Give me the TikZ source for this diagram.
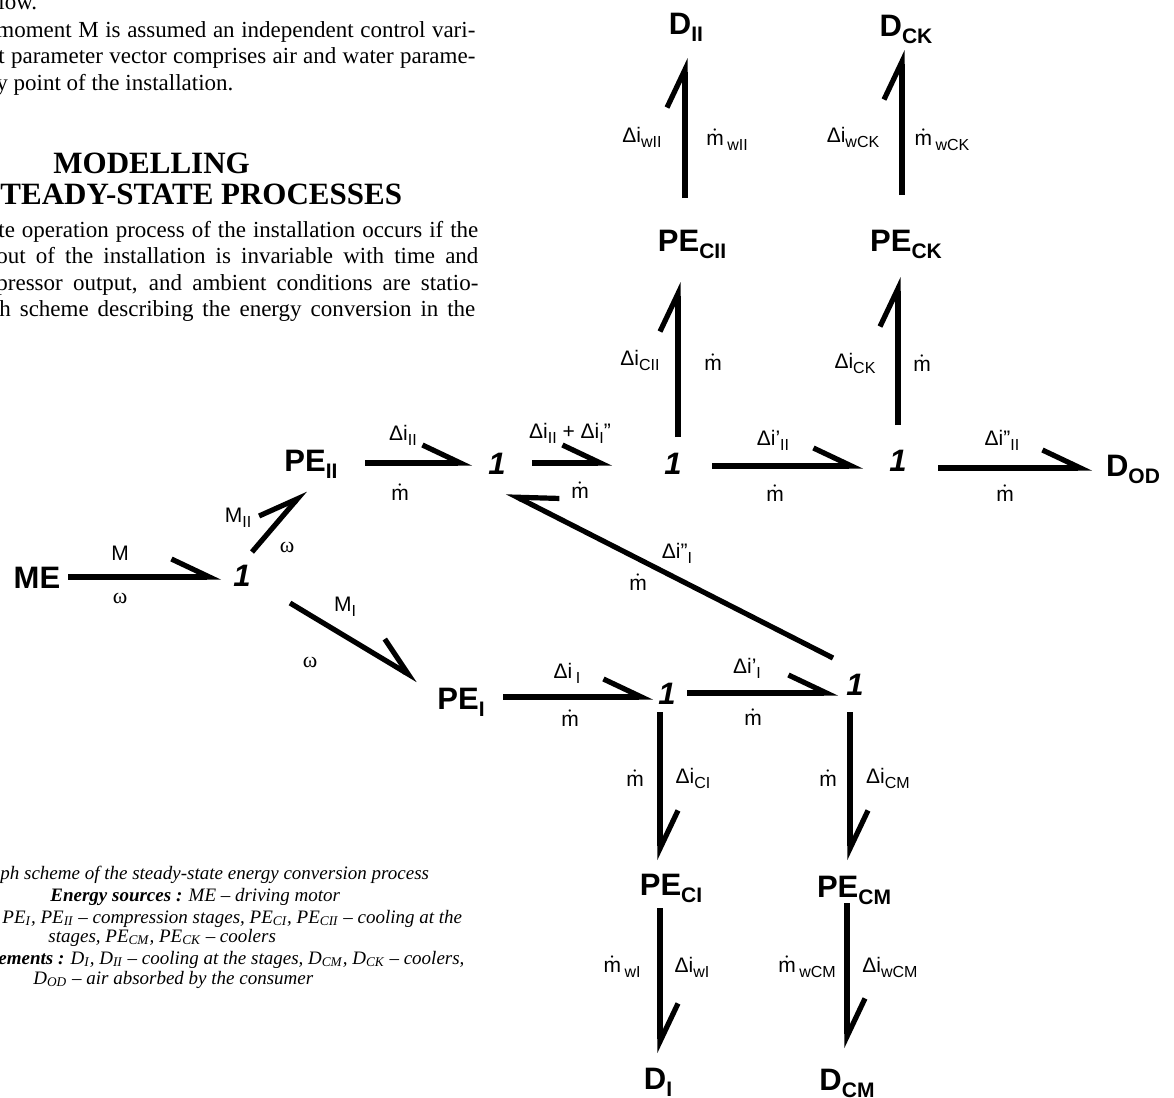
\documentclass[tikz,border=0pt]{standalone}
\usepackage{amsmath}
\usepackage{fontspec}
\setmainfont{Liberation Serif}
\setsansfont{Liberation Sans}
\usepackage{tikz}
\usetikzlibrary{arrows.meta,calc}
\newcommand{\mflow}{$\dot{\text{m}}$}
\newcommand{\esub}[1]{\raisebox{-3.5pt}{\fontsize{10.5}{11}\selectfont #1}}
\newcommand{\vsub}[1]{\raisebox{-2.5pt}{\fontsize{8}{9}\selectfont #1}}
\tikzset{
  elem/.style={font=\sffamily\bfseries\fontsize{15.5}{16}\selectfont, inner sep=0pt,
    text height=11pt, text depth=0pt},
  junc/.style={font=\sffamily\bfseries\itshape\fontsize{15.5}{16}\selectfont, inner sep=0pt,
    text height=11pt, text depth=0pt},
  var/.style={font=\sffamily\fontsize{10.5}{12}\selectfont, inner sep=1pt},
  omega/.style={font=\rmfamily\fontsize{11}{12}\selectfont, inner sep=1pt},
  bond/.style={line width=2.6pt, -{Straight Barb[harpoon, length=19pt, width=18pt]}},
  bond-swap/.style={line width=2.6pt, -{Straight Barb[harpoon, swap, length=19pt, width=18pt]}},
  page-text/.style={font=\rmfamily\fontsize{11.5}{13}\selectfont, inner sep=0pt, anchor=base west},
  page-head/.style={font=\rmfamily\bfseries\fontsize{15.5}{17}\selectfont, inner sep=0pt, anchor=base west},
  caption-line/.style={font=\rmfamily\itshape\fontsize{9.5}{10}\selectfont, inner sep=0pt, anchor=base west}
}

\begin{document}
\begin{tikzpicture}[x=0.5pt, y=-0.5pt]
\useasboundingbox (0,0) rectangle (1174,1098);
\clip (0,0) rectangle (1174,1098);

% Page text round the figure
\node[page-text] (txt1) at (-2,9) {low.};
\node[page-text] (txt2) at (-4,37) {\makebox[239.5pt][s]{moment M is assumed an independent control vari-}};
\node[page-text] (txt3) at (-2,63) {\makebox[238.5pt][s]{t parameter vector comprises air and water parame-}};
\node[page-text] (txt4) at (-4,90) {y point of the installation.};
\node[page-head] (head1) at (53,173) {MODELLING};
\node[page-head] (head2) at (0,204) {TEADY-STATE PROCESSES};
\node[page-text] (txt5) at (-2,237) {\makebox[240pt][s]{te operation process of the installation occurs if the}};
\node[page-text] (txt6) at (-4,263) {\makebox[241pt][s]{out of the installation is invariable with time and}};
\node[page-text] (txt7) at (-4,290) {\makebox[241pt][s]{pressor output, and ambient conditions are statio-}};
\node[page-text] (txt8) at (-1,316) {\makebox[238pt][s]{h scheme describing the energy conversion in the}};

% Caption
\node[caption-line] (cap1) at (0,879) {ph scheme of the steady-state energy conversion process};
\node[caption-line] (cap2) at (50,901) {\textbf{Energy sources :} ME -- driving motor};
\node[caption-line] (cap3) at (2,923) {PE\textsubscript{I}, PE\textsubscript{II} -- compression stages, PE\textsubscript{CI}, PE\textsubscript{CII} -- cooling at the};
\node[caption-line] (cap4) at (48,942) {stages, PE\textsubscript{CM}, PE\textsubscript{CK} -- coolers};
\node[caption-line] (cap5) at (-2,964) {\textbf{ements :} D\textsubscript{I}, D\textsubscript{II} -- cooling at the stages, D\textsubscript{CM}, D\textsubscript{CK} -- coolers,};
\node[caption-line] (cap6) at (33,984) {D\textsubscript{OD} -- air absorbed by the consumer};

% Elements
\node[elem] (ME) at (37,577) {ME};
\node[elem] (PEII) at (311,460) {PE\esub{II}};
\node[elem] (PEI) at (461,698) {PE\esub{I}};
\node[elem] (DOD) at (1133,465) {D\esub{OD}};
\node[elem] (PECII) at (692,240) {PE\esub{CII}};
\node[elem] (DII) at (686,23) {D\esub{II}};
\node[elem] (PECK) at (906,240) {PE\esub{CK}};
\node[elem] (DCK) at (906,25) {D\esub{CK}};
\node[elem] (PECI) at (671,884) {PE\esub{CI}};
\node[elem] (PECM) at (854,886) {PE\esub{CM}};
\node[elem] (DI) at (658,1078) {D\esub{I}};
\node[elem] (DCM) at (847,1079) {D\esub{CM}};

% Junctions
\node[junc] (j0) at (242,575) {1};
\node[junc] (jA) at (497,463) {1};
\node[junc] (jB) at (673,463) {1};
\node[junc] (jE) at (898,460) {1};
\node[junc] (jC) at (667,693) {1};
\node[junc] (jD) at (855,684) {1};

% Bonds
\draw[bond] ($(ME)+(31,0)$) -- ($(j0)+(-21,2)$);
\draw[bond] ($(j0)+(10,-23)$) -- ($(PEII)+(-6,30)$);
\draw[bond] ($(j0)+(48,28)$) -- ($(PEI)+(-43,-18)$);
\draw[bond] ($(PEII)+(54,3)$) -- ($(jA)+(-25,0)$);
\draw[bond] ($(jA)+(35,0)$) -- ($(jB)+(-61,0)$);
\draw[bond] ($(jB)+(39,3)$) -- ($(jE)+(-35,6)$);
\draw[bond] ($(jE)+(40,8)$) -- ($(DOD)+(-41,3)$);
\draw[bond] ($(jB)+(5,-26)$) -- ($(PECII)+(-14,42)$);
\draw[bond] ($(PECII)+(-7,-42)$) -- ($(DII)+(-1,35)$);
\draw[bond] ($(jE)+(0,-35)$) -- ($(PECK)+(-8,37)$);
\draw[bond] ($(PECK)+(-4,-45)$) -- ($(DCK)+(-4,25)$);
\draw[bond] ($(PEI)+(42,-1)$) -- ($(jC)+(-14,4)$);
\draw[bond] ($(jC)+(20,0)$) -- ($(jD)+(-17,9)$);
\draw[bond-swap] ($(jD)+(-22,-26)$) -- ($(jA)+(10,29)$);
\draw[bond] ($(jC)+(-7,19)$) -- ($(PECI)+(-11,-24)$);
\draw[bond] ($(jD)+(-5,28)$) -- ($(PECM)+(-4,-26)$);
\draw[bond] ($(PECI)+(-11,24)$) -- ($(DI)+(2,-25)$);
\draw[bond] ($(PECM)+(-7,17)$) -- ($(DCM)+(0,-31)$);

% Bond labels
\node[var] (lM) at (120,553) {M};
\node[omega] (lw0) at (120,598) {ω};
\node[var] (lMII) at (238,518) {M\vsub{II}};
\node[omega] (lwII) at (287,547) {ω};
\node[var] (lMI) at (345,607) {M\vsub{I}};
\node[omega] (lwI) at (310,662) {ω};
\node[var] (lA1) at (403,435) {Δi\vsub{II}};
\node[var] (lA2) at (400,492) {\mflow};
\node[var] (lB1) at (570,433) {Δi\vsub{II} + Δi\vsub{I}"};
\node[var] (lB2) at (580,490) {\mflow};
\node[var] (lE1) at (773,440) {Δi'\vsub{II}};
\node[var] (lE2) at (775,493) {\mflow};
\node[var] (lO1) at (1002,440) {Δi"\vsub{II}};
\node[var] (lO2) at (1005,493) {\mflow};
\node[var] (lD1) at (677,553) {Δi"\vsub{I}};
\node[var] (lD2) at (638,582) {\mflow};
\node[var] (lC1) at (567,673) {Δi\,\vsub{I}};
\node[var] (lC2) at (570,718) {\mflow};
\node[var] (lCD1) at (747,668) {Δi'\vsub{I}};
\node[var] (lCD2) at (753,717) {\mflow};
\node[var] (lCI1) at (635,778) {\mflow};
\node[var] (lCI2) at (693,778) {Δi\vsub{CI}};
\node[var] (lCM1) at (828,778) {\mflow};
\node[var] (lCM2) at (888,778) {Δi\vsub{CM}};
\node[var] (lwI1) at (622,967) {\mflow\,\vsub{wI}};
\node[var] (lwI2) at (692,967) {Δi\vsub{wI}};
\node[var] (lwCM1) at (807,967) {\mflow\,\vsub{wCM}};
\node[var] (lwCM2) at (890,967) {Δi\vsub{wCM}};
\node[var] (lwII1) at (642,137) {Δi\vsub{wII}};
\node[var] (lwII2) at (727,140) {\mflow\,\vsub{wII}};
\node[var] (lwCK1) at (853,137) {Δi\vsub{wCK}};
\node[var] (lwCK2) at (942,140) {\mflow\,\vsub{wCK}};
\node[var] (lCII1) at (640,360) {Δi\vsub{CII}};
\node[var] (lCII2) at (713,362) {\mflow};
\node[var] (lCK1) at (855,363) {Δi\vsub{CK}};
\node[var] (lCK2) at (922,363) {\mflow};
\end{tikzpicture}
\end{document}
